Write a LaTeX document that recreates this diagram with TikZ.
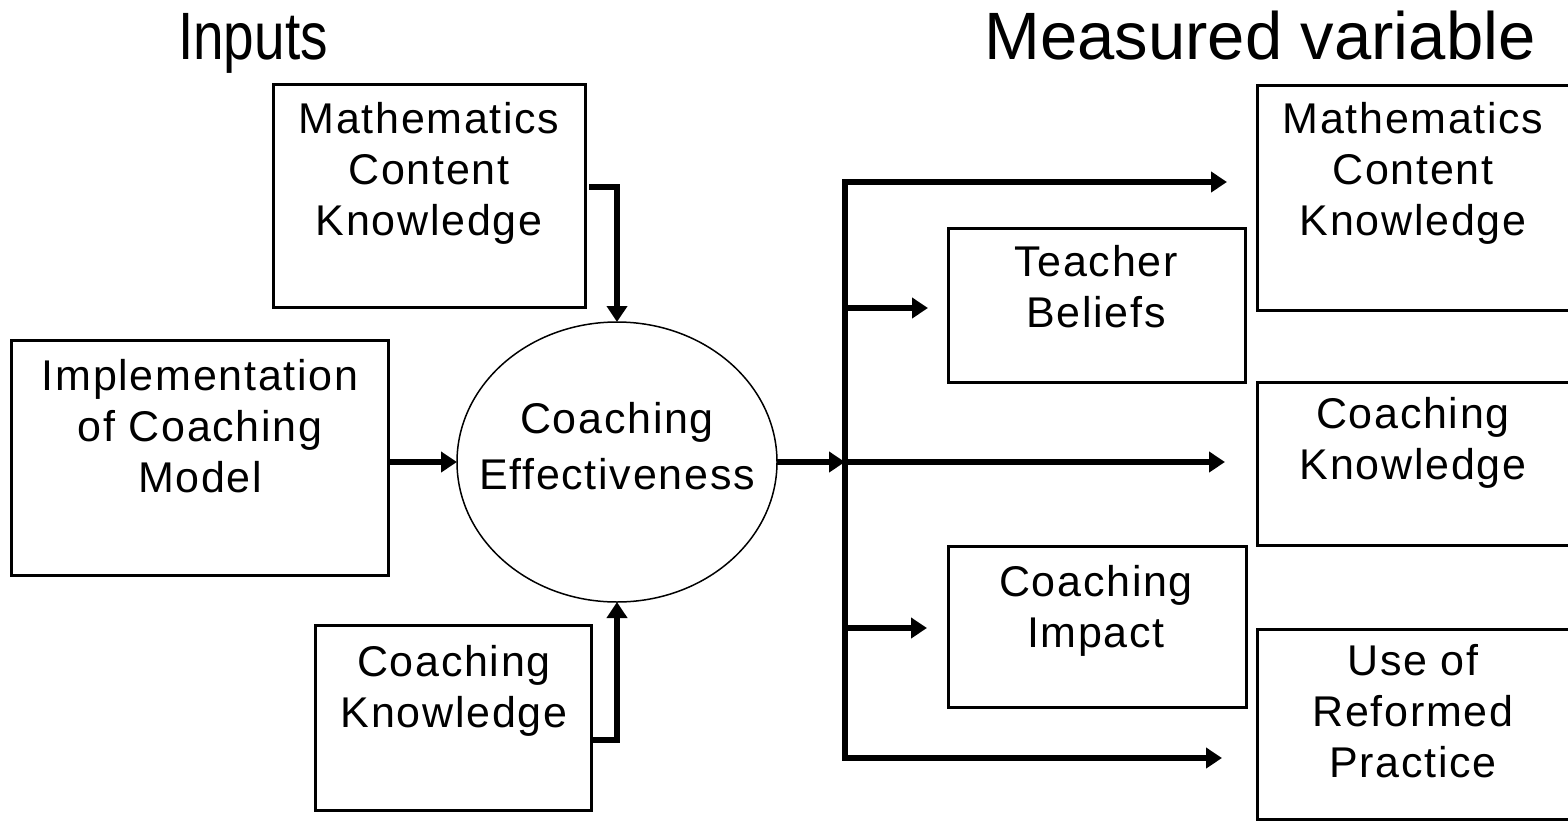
\documentclass[tikz,border=0pt]{standalone}
\usepackage{fontspec}
\setmainfont{Liberation Sans}
\usetikzlibrary{arrows.meta}
\newfontfamily\boxfont[LetterSpace=4]{Liberation Sans}
\tikzset{
  box/.style={draw=black, line width=3bp, rectangle, inner sep=0pt},
  lbl/.style={align=center, inner sep=0pt, anchor=base, font=\boxfont\fontsize{43bp}{51bp}\selectfont},
  ttl/.style={inner sep=0pt, anchor=base, font=\fontsize{67bp}{70bp}\selectfont},
  conn/.style={line width=6.5bp, -{Triangle[length=16bp,width=20bp]}},
  plain/.style={line width=6.5bp},
}
\begin{document}
\begin{tikzpicture}[x=1bp,y=-1bp]
\useasboundingbox (0,0) rectangle (1568,822);
% titles
\node[ttl] (tin) at (253,60) {\scalebox{0.82}[1]{Inputs}};
\node[ttl] (tout) at (1260,60) {Measured variable};
% input boxes
\node[box, minimum width=312bp, minimum height=222bp] (in1) at (429,196) {};
\node[lbl] (in1t) at (429,235) {Mathematics\\Content\\Knowledge};
\node[box, minimum width=376bp, minimum height=235bp] (in2) at (200,457.5) {};
\node[lbl] (in2t) at (200,492) {Implementation\\of Coaching\\Model};
\node[box, minimum width=276bp, minimum height=185bp] (in3) at (453,717.5) {};
\node[lbl] (in3t) at (454,727) {Coaching\\Knowledge};
% central ellipse
\draw[line width=1.5bp] (617,462) ellipse [x radius=160, y radius=140];
\node[lbl, font=\boxfont\fontsize{43bp}{56bp}\selectfont] (ce) at (617,489) {Coaching\\Effectiveness};
\coordinate (ceW) at (457,462);
\coordinate (ceE) at (777,462);
\coordinate (ceN) at (617,322);
\coordinate (ceS) at (617,602);
% middle output boxes
\node[box, minimum width=297bp, minimum height=154bp] (tb) at (1096.5,305) {};
\node[lbl] (tbt) at (1096,327) {Teacher\\Beliefs};
\node[box, minimum width=298bp, minimum height=161bp] (ci) at (1097,626.5) {};
\node[lbl] (cit) at (1096,647) {Coaching\\Impact};
% right output boxes
\node[box, minimum width=323bp, minimum height=224bp] (o1) at (1418.5,198) {};
\node[lbl] (o1t) at (1413,235) {Mathematics\\Content\\Knowledge};
\node[box, minimum width=323bp, minimum height=163bp] (o2) at (1418.5,463.5) {};
\node[lbl] (o2t) at (1413,479) {Coaching\\Knowledge};
\node[box, minimum width=323bp, minimum height=190bp] (o3) at (1418.5,724) {};
\node[lbl] (o3t) at (1413,777) {Use of\\Reformed\\Practice};
% bus and connector end coordinates
\coordinate (bT) at (845,182);
\coordinate (bB) at (845,758);
\coordinate (bM) at (845,462);
\coordinate (b2) at (845,308);
\coordinate (b4) at (845,628);
\coordinate (in1s) at (589,187);
\coordinate (in1c) at (617,187);
\coordinate (in3s) at (591,740);
\coordinate (in3c) at (617,740);
\coordinate (e1) at (1227,182);
\coordinate (e2) at (928,308);
\coordinate (e3) at (1225,462);
\coordinate (e4) at (927,628);
\coordinate (e5) at (1222,758);
% input connectors
\draw[conn] (in1s) -- (in1c) -- (ceN);
\draw[conn] (in2.east |- ceW) -- (ceW);
\draw[conn] (in3s) -- (in3c) -- (ceS);
% output connectors
\draw[conn] (ceE) -- (bM);
\draw[plain, line cap=rect] (bT) -- (bB);
\draw[conn] (bT) -- (e1);
\draw[conn] (b2) -- (e2);
\draw[conn] (bM) -- (e3);
\draw[conn] (b4) -- (e4);
\draw[conn] (bB) -- (e5);
\end{tikzpicture}
\end{document}
